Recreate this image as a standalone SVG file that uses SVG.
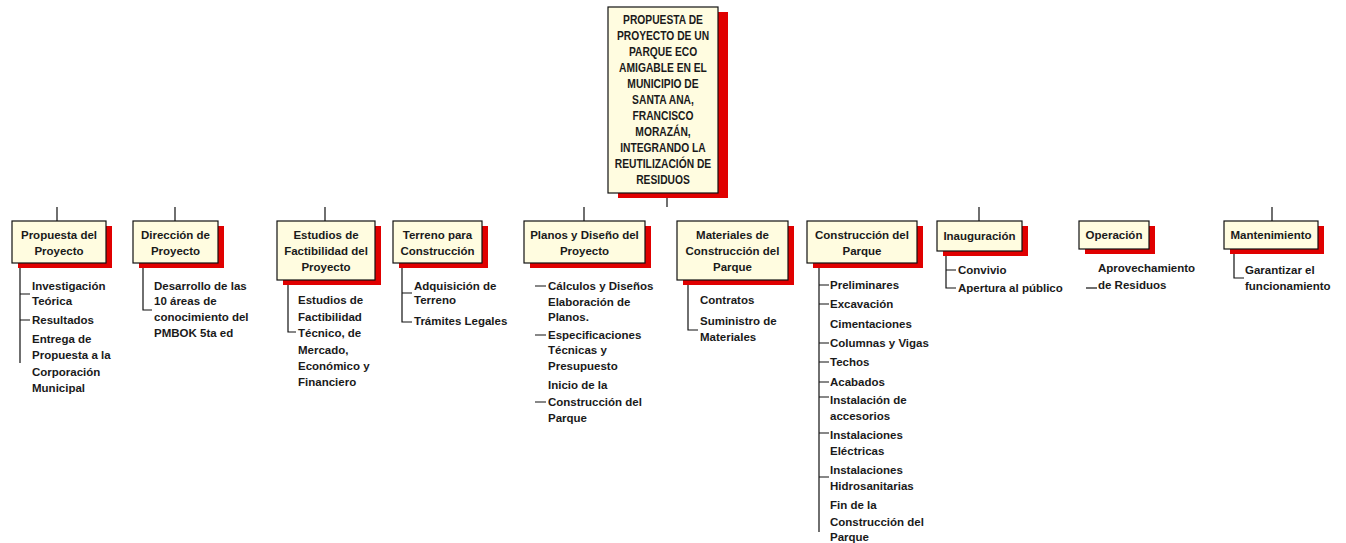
<svg xmlns="http://www.w3.org/2000/svg" width="1346" height="543" viewBox="0 0 1346 543">
<style>
.box{fill:#FFFCE0;stroke:#111;stroke-width:1.2}
.sh{fill:#E00000}
.t{font-family:"Liberation Sans",Arial,sans-serif;font-size:11.5px;font-weight:bold;fill:#1a1a1a}
.c{text-anchor:middle}
.top{font-family:"Liberation Sans",Arial,sans-serif;font-size:13px;font-weight:bold;fill:#1a1a1a;text-anchor:middle}
.ln{stroke:#111;stroke-width:1.2;fill:none}
</style>
<rect width="1346" height="543" fill="#ffffff"/>
<g id="connectors">
<path class="ln" d="M667 193V207M57 207V221M175 207V221M325 207V221M584 207V221M979 207V221M1272 207V221"/>
<path class="ln" d="M20 263V363M20 294H30M20 320H30"/>
<path class="ln" d="M143 263V310H152"/>
<path class="ln" d="M288 280V332H296"/>
<path class="ln" d="M402 263V322H412M402 293H412"/>
<path class="ln" d="M535 286H546M535 335H546M535 402H546"/>
<path class="ln" d="M688 280V330H698"/>
<path class="ln" d="M819 263V532M819 285H829M819 304H829M819 343H829M819 362H829M819 382H829M819 397H829M819 433H829M819 477H829"/>
<path class="ln" d="M946 252V288H956M946 270H956"/>
<path class="ln" d="M1086 288H1097"/>
<path class="ln" d="M1234 249V278H1244"/>
</g>
<g id="root">
<rect class="sh" x="618" y="12" width="110" height="186"/>
<rect class="box" x="608" y="7" width="110" height="186"/>
<g transform="translate(663,0) scale(0.79,1)">
<text class="top" x="0" y="24.5">PROPUESTA DE</text>
<text class="top" x="0" y="40.5">PROYECTO DE UN</text>
<text class="top" x="0" y="56.5">PARQUE ECO</text>
<text class="top" x="0" y="72.5">AMIGABLE EN EL</text>
<text class="top" x="0" y="88.5">MUNICIPIO DE</text>
<text class="top" x="0" y="104.5">SANTA ANA,</text>
<text class="top" x="0" y="120.5">FRANCISCO</text>
<text class="top" x="0" y="136.5">MORAZÁN,</text>
<text class="top" x="0" y="152.5">INTEGRANDO LA</text>
<text class="top" x="0" y="168.5">REUTILIZACIÓN DE</text>
<text class="top" x="0" y="184.5">RESIDUOS</text>
</g>
</g>
<g id="n1">
<rect class="sh" x="18" y="226" width="94" height="42"/>
<rect class="box" x="12" y="221" width="94" height="42"/>
<text class="t c" x="59" y="239">Propuesta del</text>
<text class="t c" x="59" y="255">Proyecto</text>
<text class="t" x="32" y="290">Investigación</text>
<text class="t" x="32" y="305">Teórica</text>
<text class="t" x="32" y="324">Resultados</text>
<text class="t" x="32" y="343">Entrega de</text>
<text class="t" x="32" y="359">Propuesta a la</text>
<text class="t" x="32" y="376">Corporación</text>
<text class="t" x="32" y="392">Municipal</text>
</g>
<g id="n2">
<rect class="sh" x="139" y="226" width="85" height="42"/>
<rect class="box" x="133" y="221" width="85" height="42"/>
<text class="t c" x="175.5" y="239">Dirección de</text>
<text class="t c" x="175.5" y="255">Proyecto</text>
<text class="t" x="154" y="290">Desarrollo de las</text>
<text class="t" x="154" y="305">10 áreas de</text>
<text class="t" x="154" y="321">conocimiento del</text>
<text class="t" x="154" y="337">PMBOK 5ta ed</text>
</g>
<g id="n3">
<rect class="sh" x="283" y="226" width="98" height="59"/>
<rect class="box" x="277" y="221" width="98" height="59"/>
<text class="t c" x="326" y="239">Estudios de</text>
<text class="t c" x="326" y="255">Factibilidad del</text>
<text class="t c" x="326" y="271">Proyecto</text>
<text class="t" x="298" y="304">Estudios de</text>
<text class="t" x="298" y="321">Factibilidad</text>
<text class="t" x="298" y="337">Técnico, de</text>
<text class="t" x="298" y="354">Mercado,</text>
<text class="t" x="298" y="370">Económico y</text>
<text class="t" x="298" y="386">Financiero</text>
</g>
<g id="n4">
<rect class="sh" x="399" y="226" width="89" height="42"/>
<rect class="box" x="393" y="221" width="89" height="42"/>
<text class="t c" x="437.5" y="239">Terreno para</text>
<text class="t c" x="437.5" y="255">Construcción</text>
<text class="t" x="414" y="290">Adquisición de</text>
<text class="t" x="414" y="304">Terreno</text>
<text class="t" x="414" y="325">Trámites Legales</text>
</g>
<g id="n5">
<rect class="sh" x="530" y="226" width="121" height="42"/>
<rect class="box" x="524" y="221" width="121" height="42"/>
<text class="t c" x="584.5" y="239">Planos y Diseño del</text>
<text class="t c" x="584.5" y="255">Proyecto</text>
<text class="t" x="548" y="290">Cálculos y Diseños</text>
<text class="t" x="548" y="306">Elaboración de</text>
<text class="t" x="548" y="321">Planos.</text>
<text class="t" x="548" y="339">Especificaciones</text>
<text class="t" x="548" y="354">Técnicas y</text>
<text class="t" x="548" y="370">Presupuesto</text>
<text class="t" x="548" y="389">Inicio de la</text>
<text class="t" x="548" y="406">Construcción del</text>
<text class="t" x="548" y="422">Parque</text>
</g>
<g id="n6">
<rect class="sh" x="683" y="226" width="111" height="59"/>
<rect class="box" x="677" y="221" width="111" height="59"/>
<text class="t c" x="732.5" y="239">Materiales de</text>
<text class="t c" x="732.5" y="255">Construcción del</text>
<text class="t c" x="732.5" y="271">Parque</text>
<text class="t" x="700" y="304">Contratos</text>
<text class="t" x="700" y="325">Suministro de</text>
<text class="t" x="700" y="341">Materiales</text>
</g>
<g id="n7">
<rect class="sh" x="813" y="226" width="110" height="42"/>
<rect class="box" x="807" y="221" width="110" height="42"/>
<text class="t c" x="862" y="239">Construcción del</text>
<text class="t c" x="862" y="255">Parque</text>
<text class="t" x="830" y="289">Preliminares</text>
<text class="t" x="830" y="308">Excavación</text>
<text class="t" x="830" y="328">Cimentaciones</text>
<text class="t" x="830" y="347">Columnas y Vigas</text>
<text class="t" x="830" y="366">Techos</text>
<text class="t" x="830" y="386">Acabados</text>
<text class="t" x="830" y="404">Instalación de</text>
<text class="t" x="830" y="420">accesorios</text>
<text class="t" x="830" y="439">Instalaciones</text>
<text class="t" x="830" y="455">Eléctricas</text>
<text class="t" x="830" y="474">Instalaciones</text>
<text class="t" x="830" y="490">Hidrosanitarias</text>
<text class="t" x="830" y="509">Fin de la</text>
<text class="t" x="830" y="526">Construcción del</text>
<text class="t" x="830" y="541">Parque</text>
</g>
<g id="n8">
<rect class="sh" x="943" y="226" width="85" height="30"/>
<rect class="box" x="937" y="221" width="85" height="30"/>
<text class="t c" x="979.5" y="240">Inauguración</text>
<text class="t" x="958" y="274">Convivio</text>
<text class="t" x="958" y="292">Apertura al público</text>
</g>
<g id="n9">
<rect class="sh" x="1085" y="226" width="70" height="28"/>
<rect class="box" x="1079" y="221" width="70" height="28"/>
<text class="t c" x="1114" y="239">Operación</text>
<text class="t" x="1098" y="272">Aprovechamiento</text>
<text class="t" x="1098" y="289">de Residuos</text>
</g>
<g id="n10">
<rect class="sh" x="1230" y="226" width="94" height="28"/>
<rect class="box" x="1224" y="221" width="94" height="28"/>
<text class="t c" x="1271" y="239">Mantenimiento</text>
<text class="t" x="1245" y="274">Garantizar el</text>
<text class="t" x="1245" y="290">funcionamiento</text>
</g>
</svg>
